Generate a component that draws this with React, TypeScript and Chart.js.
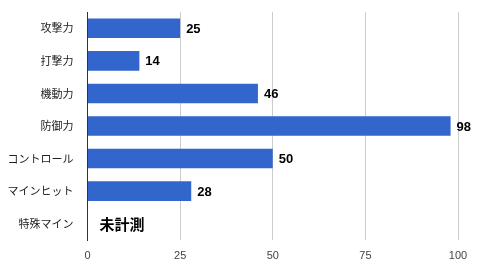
import React, { useEffect, useRef } from "react";
import { Chart, registerables } from "chart.js";

Chart.register(...registerables);

const categories = ["攻撃力", "打撃力", "機動力", "防御力", "コントロール", "マインヒット", "特殊マイン"];
const values: (number | null)[] = [25, 14, 46, 98, 50, 28, null];
const xTicks = [0, 25, 50, 75, 100];
const missingLabel = "未計測";

const valueLabelPlugin = {
  id: "valueLabels",
  afterDatasetsDraw(chart: any) {
    const ctx = chart.ctx;
    const xs = chart.scales.x;
    const ys = chart.scales.y;
    ctx.save();
    ctx.fillStyle = "#000";
    ctx.textBaseline = "middle";
    ctx.textAlign = "left";
    values.forEach((v, i) => {
      const y = ys.getPixelForValue(i);
      if (v === null) {
        ctx.font = "bold 15px 'Noto Sans CJK JP'";
        ctx.fillText(missingLabel, xs.getPixelForValue(0) + 12, y + 1);
      } else {
        ctx.font = "bold 13px 'Liberation Sans', Arial, sans-serif";
        ctx.fillText(String(v), xs.getPixelForValue(v) + 6, y + 1);
      }
    });
    ctx.restore();
  },
};

export default function App() {
  const ref = useRef<HTMLCanvasElement | null>(null);
  useEffect(() => {
    document.body.style.margin = "0";
    const chart = new Chart(ref.current!, {
      type: "bar",
      data: {
        labels: categories,
        datasets: [
          {
            data: values as any,
            backgroundColor: "#3366CC",
            borderWidth: 0,
            categoryPercentage: 1,
            barPercentage: 0.6,
          },
        ],
      },
      options: {
        indexAxis: "y",
        animation: false,
        responsive: false,
        maintainAspectRatio: false,
        layout: { padding: { top: 12, right: 22, left: 0, bottom: 0 } },
        plugins: { legend: { display: false }, tooltip: { enabled: false } },
        scales: {
          x: {
            min: 0,
            max: 100,
            afterBuildTicks: (scale: any) => {
              scale.ticks = xTicks.map((v) => ({ value: v }));
            },
            afterFit: (scale: any) => {
              scale.height = 37;
            },
            grid: { color: "#cccccc", drawTicks: false, lineWidth: 1 },
            border: { display: false },
            ticks: {
              padding: 9,
              color: "#444444",
              font: { family: "'Liberation Sans', Arial, sans-serif", size: 11 },
            },
          },
          y: {
            afterFit: (scale: any) => {
              scale.width = 87.5;
              scale.paddingTop = 0;
              scale.paddingBottom = 0;
            },
            grid: { display: false, drawTicks: false },
            border: { display: true, color: "#333333", width: 1 },
            ticks: {
              padding: 14,
              color: "#222222",
              font: { family: "'Noto Sans CJK JP'", size: 11 },
            },
          },
        },
      },
      plugins: [valueLabelPlugin],
    });
    return () => chart.destroy();
  }, []);
  return (
    <div style={{ width: 480, height: 277, position: "relative" }}>
      <canvas ref={ref} width={480} height={277} style={{ width: 480, height: 277, display: "block" }} />
    </div>
  );
}
